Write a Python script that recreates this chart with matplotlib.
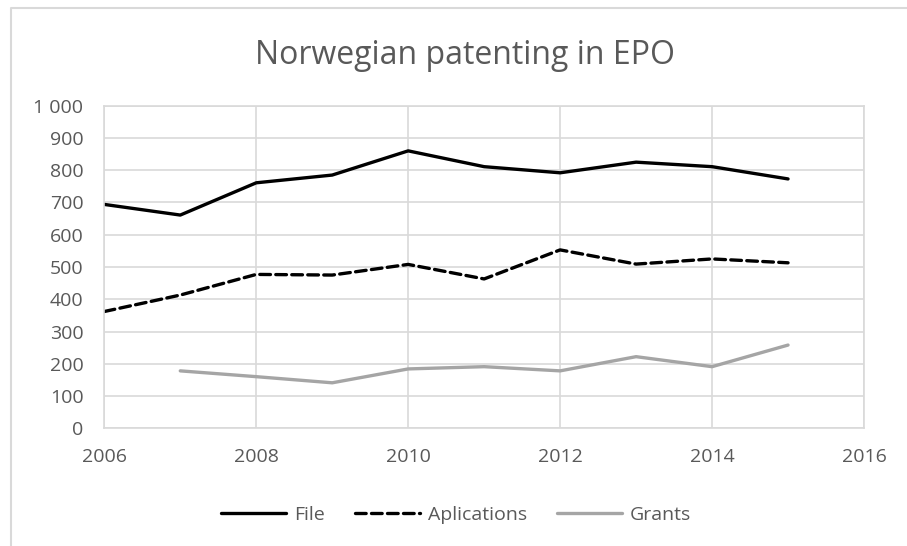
import matplotlib
matplotlib.use("Agg")
import matplotlib.pyplot as plt
from matplotlib.lines import Line2D
from matplotlib.ticker import FuncFormatter, MultipleLocator

# Data
years_file = [2006, 2007, 2008, 2009, 2010, 2011, 2012, 2013, 2014, 2015]
file_vals = [694, 661, 761, 785, 860, 811, 792, 825, 811, 773]
applications = [362, 413, 477, 475, 508, 463, 553, 509, 525, 513]
years_grants = [2007, 2008, 2009, 2010, 2011, 2012, 2013, 2014, 2015]
grants = [178, 160, 141, 184, 191, 178, 222, 191, 258]

TEXT = "#595959"
GRID = "#d9d9d9"

plt.rcParams["font.family"] = ["Open Sans", "DejaVu Sans"]

W, H = 907, 546
fig = plt.figure(figsize=(W / 100, H / 100), dpi=100)
ax = fig.add_axes([0.115, 0.2156, 0.8376, 0.5908])

ax.plot(years_file, file_vals, color="black", lw=2.4, label="File",
        solid_capstyle="round", solid_joinstyle="round")
ax.plot(years_file, applications, color="black", lw=2.4, label="Aplications",
        dashes=(3.2, 1.6), dash_capstyle="round", dash_joinstyle="round")
ax.plot(years_grants, grants, color="#a5a5a5", lw=2.4, label="Grants",
        solid_capstyle="round", solid_joinstyle="round")

ax.set_xlim(2006, 2016)
ax.set_ylim(0, 1000)
ax.xaxis.set_major_locator(MultipleLocator(2))
ax.yaxis.set_major_locator(MultipleLocator(100))
ax.yaxis.set_major_formatter(FuncFormatter(lambda v, p: f"{int(v):,}".replace(",", " ")))
ax.grid(True, color=GRID, lw=1.2)
ax.set_axisbelow(True)
for s in ax.spines.values():
    s.set_color(GRID)
    s.set_linewidth(1.2)
ax.tick_params(length=0, colors=TEXT, labelsize=14)
ax.tick_params(axis="y", pad=15)
ax.tick_params(axis="x", pad=14)

fig.text(464.5 / W, 1 - 64 / H, "Norwegian patenting in EPO", ha="center",
         va="baseline", fontsize=23, color=TEXT)

ax.legend(loc="center", bbox_to_anchor=(0.463, -0.269), ncol=3, frameon=False,
          fontsize=14, labelcolor=TEXT, handlelength=3.35, columnspacing=1.55,
          handletextpad=0.4)

# chart-area border (only left and top edges visible in the reference)
fig.add_artist(Line2D([10.5 / W, 10.5 / W, 1.0], [0.0, 1 - 7.5 / H, 1 - 7.5 / H],
                      transform=fig.transFigure, color=GRID, lw=1.5))

fig.savefig("out.png", dpi=100)
